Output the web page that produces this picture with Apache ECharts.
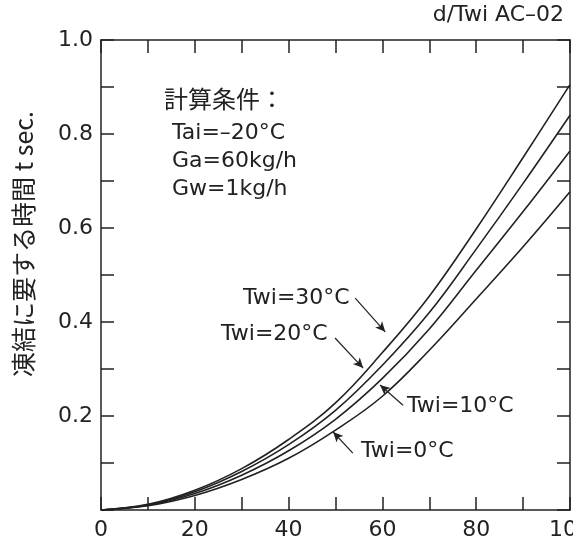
<!DOCTYPE html>
<html>
<head>
    <meta charset="utf-8">
    <title>凍結に要する時間</title>
    <script src="https://cdn.jsdelivr.net/npm/echarts@6/dist/echarts.min.js"></script>
    <style>
        html, body { margin: 0; padding: 0; background: #fff; }
    </style>
</head>
<body>
    <div id="main" style="width: 573px;height:545px;"></div>
    <script type="text/javascript">
        // 横軸 (0-100), 縦軸 凍結に要する時間 t sec.
        var xValues = [0, 10, 20, 30, 40, 50, 60, 70, 80, 90, 100];
        var twi30 = [0, 0.012, 0.042, 0.088, 0.150, 0.228, 0.335, 0.455, 0.598, 0.750, 0.905];
        var twi20 = [0, 0.011, 0.039, 0.082, 0.139, 0.212, 0.308, 0.420, 0.555, 0.695, 0.840];
        var twi10 = [0, 0.010, 0.035, 0.074, 0.126, 0.193, 0.280, 0.385, 0.510, 0.635, 0.764];
        var twi0  = [0, 0.009, 0.031, 0.065, 0.110, 0.170, 0.242, 0.340, 0.449, 0.560, 0.677];
        var seriesNames = ['Twi=30°C', 'Twi=20°C', 'Twi=10°C', 'Twi=0°C'];
        var xTickLabels = [0, 20, 40, 60, 80, 100];
        var yTickLabels = ['0.2', '0.4', '0.6', '0.8', '1.0'];

        // 矢印 (データ座標): [始点, 終点]
        var arrows = [
            [[54.2, 0.451], [60.6, 0.379]],
            [[49.9, 0.366], [55.9, 0.302]],
            [[64.4, 0.223], [59.5, 0.266]],
            [[53.7, 0.121], [49.5, 0.166]]
        ];

        var ink = '#222';
        var font = 'DejaVu Sans';

        function pairs(vals) {
            return xValues.map(function (x, i) { return [x, vals[i]]; });
        }

        var curveData = [twi30, twi20, twi10, twi0];
        var series = curveData.map(function (vals, i) {
            return {
                name: seriesNames[i],
                type: 'line',
                smooth: 0.4,
                showSymbol: false,
                data: pairs(vals),
                lineStyle: { color: ink, width: 1.6 },
                markLine: {
                    silent: true,
                    symbol: ['none', 'arrow'],
                    symbolSize: [7, 10],
                    label: { show: false },
                    lineStyle: { color: ink, width: 1.2, type: 'solid' },
                    data: [[{ coord: arrows[i][0] }, { coord: arrows[i][1] }]]
                }
            };
        });
        // 上・右の枠を描くための空系列
        series.push({ type: 'line', xAxisIndex: 1, yAxisIndex: 1, data: [] });

        var myChart = echarts.init(document.getElementById('main'));

        var tickStyle = { show: true, inside: true, length: 13, lineStyle: { color: ink, width: 1.5 } };
        var lineStyle = { show: true, onZero: false, lineStyle: { color: ink, width: 1.5 } };

        var option = {
            animation: false,
            backgroundColor: '#fff',
            grid: { left: 101, right: 3, top: 40, bottom: 35, outerBoundsMode: 'none', containLabel: false },
            xAxis: [{
                type: 'value', min: 0, max: 100, interval: 10,
                axisLine: lineStyle, axisTick: tickStyle, splitLine: { show: false },
                axisLabel: {
                    color: ink, fontFamily: font, fontSize: 22, margin: 9,
                    formatter: function (v) { return xTickLabels.indexOf(v) >= 0 ? String(v) : ''; }
                }
            }, {
                type: 'value', position: 'top', min: 0, max: 100, interval: 10,
                axisLine: lineStyle, axisTick: tickStyle, splitLine: { show: false },
                axisLabel: { show: false }
            }],
            yAxis: [{
                type: 'value', min: 0, max: 1, interval: 0.1,
                axisLine: lineStyle, axisTick: tickStyle, splitLine: { show: false },
                axisLabel: {
                    color: ink, fontFamily: font, fontSize: 22, margin: 8,
                    formatter: function (v) {
                        var s = v.toFixed(1);
                        return yTickLabels.indexOf(s) >= 0 ? s : '';
                    }
                }
            }, {
                type: 'value', position: 'right', min: 0, max: 1, interval: 0.1,
                axisLine: lineStyle, axisTick: tickStyle, splitLine: { show: false },
                axisLabel: { show: false }
            }],
            graphic: [
                {
                    type: 'text', x: 23, y: 244, rotation: Math.PI / 2,
                    style: { text: '凍結に要する時間 t sec.', fill: ink, font: '25px "Noto Sans CJK JP"', align: 'center', verticalAlign: 'middle' }
                },
                { type: 'text', right: 9, top: 4, style: { text: 'd/Twi AC–02', fill: ink, font: '22px "DejaVu Sans"' } },
                { type: 'text', left: 164, top: 87, style: { text: '計算条件：', fill: ink, font: '24px "Noto Sans CJK JP"' } },
                { type: 'text', left: 172, top: 119, style: { text: 'Tai=–20°C\nGa=60kg/h\nGw=1kg/h', fill: ink, font: '22px "DejaVu Sans"', lineHeight: 28 } },
                { type: 'text', left: 243, top: 287, style: { text: seriesNames[0], fill: ink, font: '22px "DejaVu Sans"' } },
                { type: 'text', left: 221, top: 323, style: { text: seriesNames[1], fill: ink, font: '22px "DejaVu Sans"' } },
                { type: 'text', left: 407, top: 395, style: { text: seriesNames[2], fill: ink, font: '22px "DejaVu Sans"' } },
                { type: 'text', left: 361, top: 440, style: { text: seriesNames[3], fill: ink, font: '22px "DejaVu Sans"' } }
            ],
            series: series
        };

        myChart.setOption(option);
    </script>
</body>
</html>
